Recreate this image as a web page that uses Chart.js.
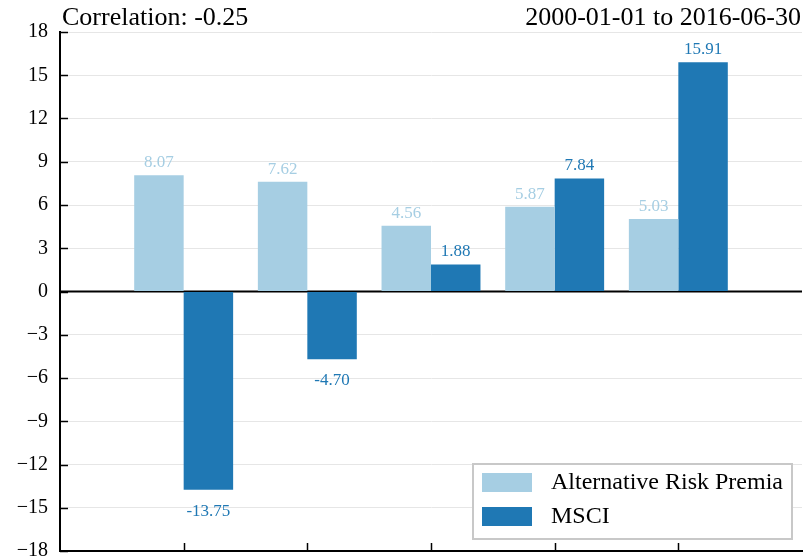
<!DOCTYPE html>
<html>
<head>
<meta charset="utf-8">
<script src="https://cdn.jsdelivr.net/npm/chart.js@4"></script>
<style>
  html, body { margin: 0; padding: 0; background: #fff; overflow: hidden; }
  #wrap { width: 805px; height: 575px; position: relative; }
</style>
</head>
<body>
<div id="wrap"><canvas id="barChart"></canvas></div>
<script>
// slots 0 and 6 are empty padding so the five groups sit like the original
const categories = ["", "", "", "", "", "", ""];
const arpValues = [null, 8.07, 7.62, 4.56, 5.87, 5.03, null];
const msciValues = [null, -13.75, -4.70, 1.88, 7.84, 15.91, null];
const yTicks = [-18, -15, -12, -9, -6, -3, 0, 3, 6, 9, 12, 15, 18];
const titleLeft = "Correlation: -0.25";
const titleRight = "2000-01-01 to 2016-06-30";

const LIGHT = "#a6cee3";
const DARK = "#1f78b4";
const SERIF = "'Liberation Serif', 'DejaVu Serif', serif";

// titles, value labels, inward ticks, legend box
const extras = {
    id: "extras",
    afterDatasetsDraw(chart) {
        const ctx = chart.ctx;
        const area = chart.chartArea;
        const x = chart.scales.x;
        const y = chart.scales.y;
        ctx.save();

        // inward tick marks
        ctx.strokeStyle = "#000";
        ctx.lineWidth = 1.5;
        yTicks.forEach(v => {
            const py = Math.round(y.getPixelForValue(v)) + 0.5;
            ctx.beginPath();
            ctx.moveTo(area.left, py);
            ctx.lineTo(area.left + 8, py);
            ctx.stroke();
        });
        for (let i = 1; i <= 5; i++) {
            const px = Math.round(x.getPixelForValue(i)) + 0.5;
            ctx.beginPath();
            ctx.moveTo(px, area.bottom);
            ctx.lineTo(px, area.bottom - 8);
            ctx.stroke();
        }

        // value labels
        ctx.font = "17px " + SERIF;
        ctx.textAlign = "center";
        ctx.textBaseline = "alphabetic";
        chart.data.datasets.forEach((ds, di) => {
            const meta = chart.getDatasetMeta(di);
            meta.data.forEach((bar, i) => {
                const v = ds.data[i];
                if (v === null) return;
                ctx.fillStyle = ds.backgroundColor;
                if (v >= 0) {
                    ctx.fillText(v.toFixed(2), bar.x, bar.y - 8);
                } else {
                    ctx.fillText(v.toFixed(2), bar.x, bar.y + 26);
                }
            });
        });

        // titles
        ctx.fillStyle = "#000";
        ctx.font = "26px " + SERIF;
        ctx.textAlign = "left";
        ctx.fillText(titleLeft, 62, 25);
        ctx.textAlign = "right";
        ctx.fillText(titleRight, 801, 25);

        // legend
        const lx = 473, ly = 464, lw = 319, lh = 75;
        ctx.fillStyle = "#fff";
        ctx.fillRect(lx, ly, lw, lh);
        ctx.strokeStyle = "#c8c8c8";
        ctx.lineWidth = 2;
        ctx.strokeRect(lx, ly, lw, lh);
        ctx.font = "24px " + SERIF;
        ctx.textAlign = "left";
        ctx.textBaseline = "middle";
        chart.data.datasets.forEach((ds, di) => {
            const ry = ly + 9 + di * 34;
            ctx.fillStyle = ds.backgroundColor;
            ctx.fillRect(lx + 9, ry, 50, 19);
            ctx.fillStyle = "#000";
            ctx.fillText(ds.label, lx + 78, ry + 10);
        });

        ctx.restore();
    }
};

// thick zero line over the bars' base
const zeroLine = {
    id: "zeroLine",
    beforeDatasetsDraw(chart) {
        const ctx = chart.ctx;
        const area = chart.chartArea;
        const py = chart.scales.y.getPixelForValue(0);
        ctx.save();
        ctx.strokeStyle = "#000";
        ctx.lineWidth = 2;
        ctx.beginPath();
        ctx.moveTo(area.left, py);
        ctx.lineTo(area.right, py);
        ctx.stroke();
        ctx.restore();
    }
};

new Chart(document.getElementById("barChart"), {
    type: "bar",
    data: {
        labels: categories,
        datasets: [
            { label: "Alternative Risk Premia", data: arpValues, backgroundColor: LIGHT },
            { label: "MSCI", data: msciValues, backgroundColor: DARK }
        ]
    },
    options: {
        responsive: true,
        maintainAspectRatio: false,
        animation: false,
        categoryPercentage: 0.8,
        barPercentage: 1.0,
        layout: { padding: { top: 32, right: 3, bottom: 9, left: 0 } },
        plugins: {
            legend: { display: false },
            tooltip: { enabled: false }
        },
        scales: {
            x: {
                offset: false,
                afterFit(scale) { scale.height = 0; },
                grid: { display: false, drawTicks: false },
                border: { color: "#000", width: 2 },
                ticks: { display: false }
            },
            y: {
                min: -18,
                max: 18,
                afterFit(scale) { scale.width = 60; },
                afterBuildTicks(scale) { scale.ticks = yTicks.map(v => ({ value: v })); },
                grid: { color: "#e6e6e6", drawTicks: false },
                border: { color: "#000", width: 2 },
                ticks: {
                    padding: 12,
                    color: "#000",
                    font: { family: SERIF, size: 20 },
                    callback: v => (v < 0 ? "\u2212" + Math.abs(v) : String(v))
                }
            }
        }
    },
    plugins: [zeroLine, extras]
});
</script>
</body>
</html>
